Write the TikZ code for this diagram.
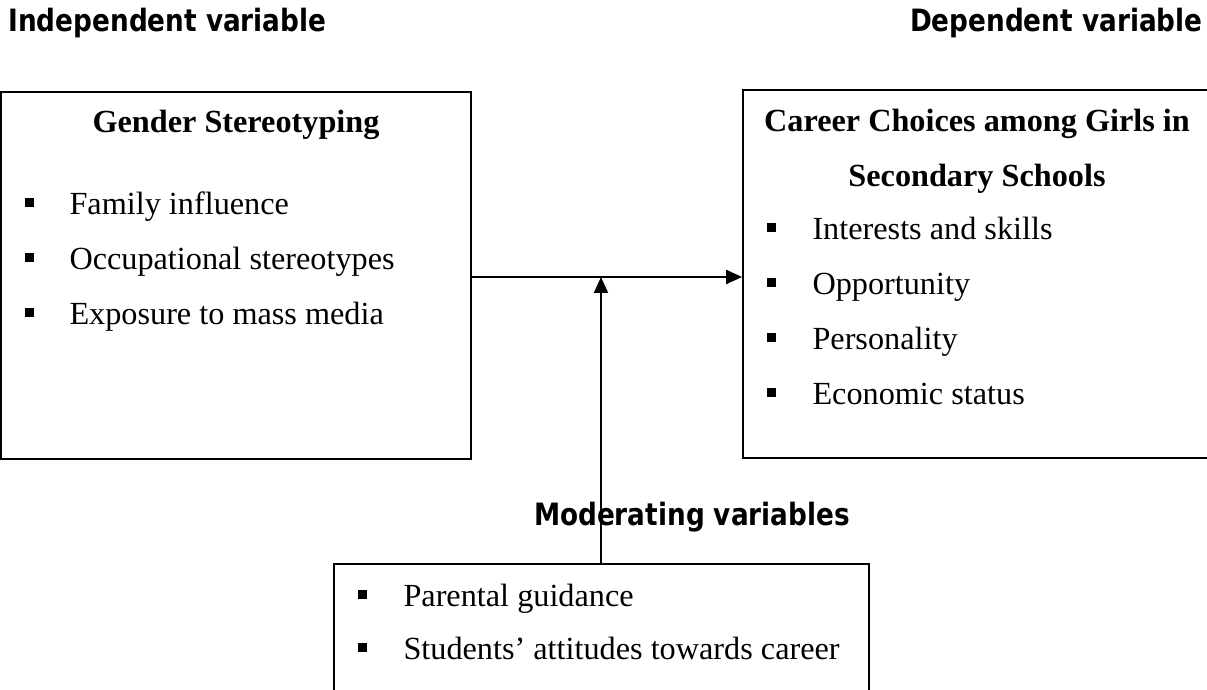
\documentclass[tikz,border=0pt]{standalone}
\usepackage{fontspec}
\setmainfont{Liberation Serif}
\newfontfamily\headfont{DejaVu Sans}[FakeStretch=0.855]
\usetikzlibrary{arrows.meta,fit}

\tikzset{
  box/.style={draw, line width=0.7pt, inner sep=0pt},
  head/.style={font=\headfont\bfseries\fontsize{12.3}{14}\selectfont, inner sep=0pt},
  title/.style={font=\bfseries\fontsize{12.9}{15}\selectfont, anchor=base, inner sep=0pt},
  item/.style={font=\fontsize{12.9}{15}\selectfont, anchor=base west, inner sep=0pt},
  link/.style={line width=0.8pt, -{Triangle[length=6.4pt,width=5.6pt]}}
}

\begin{document}
\begin{tikzpicture}[x=0.4pt,y=-0.4pt]
\useasboundingbox (0,0) rectangle (1207,690);

% headings
\node [head, anchor=base west] (indep) at (8,32) {Independent variable};
\node [head, anchor=base east] (dep) at (1203,32) {Dependent variable};

% independent variable
\node [box, fit={(1,92) (471,459)}] (gender) {};
\node [title] (gendertitle) at (236,133) {Gender Stereotyping};
\fill (24.5,198.5) rectangle (33.5,207.5);
\fill (24.5,253.5) rectangle (33.5,262.5);
\fill (24.5,308.5) rectangle (33.5,317.5);
\node [item] (family) at (69,215) {Family influence};
\node [item] (occup) at (69,270) {Occupational stereotypes};
\node [item] (media) at (69,325) {Exposure to mass media};

% dependent variable
\node [box, fit={(743,90) (1215,458)}] (career) {};
\node [title] (careertitle) at (977,132) {Career Choices among Girls in};
\node [title] (careertitleb) at (977,187) {Secondary Schools};
\fill (766.5,223.5) rectangle (775.5,232.5);
\fill (766.5,278.5) rectangle (775.5,287.5);
\fill (766.5,333.5) rectangle (775.5,342.5);
\fill (766.5,388.5) rectangle (775.5,397.5);
\node [item] (interest) at (812,240) {Interests and skills};
\node [item] (oppor) at (812,295) {Opportunity};
\node [item] (person) at (812,350) {Personality};
\node [item] (econ) at (812,405) {Economic status};

% moderating variables
\node [head, anchor=base] (modlabel) at (692,526) {Moderating variables};
\node [box, fit={(334,564) (869,700)}] (moder) {};
\fill (357.5,590.5) rectangle (366.5,599.5);
\fill (357.5,643.5) rectangle (366.5,652.5);
\node [item] (parent) at (403,607) {Parental guidance};
\node [item] (attit) at (403,660) {Students’ attitudes towards career};

% arrows
\coordinate (meet) at (601,277);
\draw [link] (gender.east |- meet) -- (career.west |- meet);
\draw [link] (moder.north -| meet) -- (meet);
\end{tikzpicture}
\end{document}
